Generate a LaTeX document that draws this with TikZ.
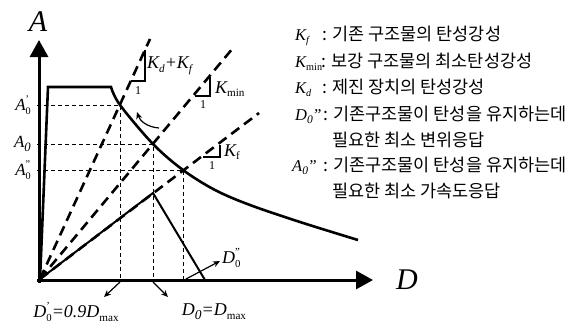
\documentclass[tikz,border=0pt]{standalone}
\usepackage{fontspec}
\usepackage{graphicx}
\setmainfont{Liberation Serif}
\newfontfamily\kr{Noto Sans CJK KR}
\usetikzlibrary{arrows.meta}
\newcommand\fs[1]{\fontsize{#1}{#1}\selectfont}
\newcommand\sbx[2][0.62]{\raisebox{-0.45ex}{\scalebox{#1}{#2}}}
\newcommand\stk[3]{#1\rlap{\raisebox{1.0ex}{\scalebox{0.6}{#2}}}\raisebox{-0.45ex}{\scalebox{0.6}{#3}}}
\begin{document}
\begin{tikzpicture}[x=1pt,y=-1pt,
  axis/.style={line width=3pt,-{Triangle[length=17pt,width=18pt]}},
  spec/.style={line width=2.6pt,line join=miter},
  slope/.style={line width=2.6pt,dash pattern=on 10pt off 6pt},
  guide/.style={line width=1pt,dash pattern=on 4pt off 3pt},
  tri/.style={line width=1.5pt},
  pth/.style={line width=2pt,line join=round},
  small/.style={line width=1.2pt,-{Stealth[length=7pt,width=6pt]}},
  lbl/.style={inner sep=0pt,font=\fs{18}\itshape},
  big/.style={inner sep=0pt,font=\fs{30}\itshape},
  one/.style={inner sep=0pt,font=\fs{12}},
  leg/.style={inner sep=0pt,anchor=base west,font=\fs{17.5}\kr},
  legk/.style={inner sep=0pt,anchor=base west,font=\fs{16.5}\itshape},
]
\useasboundingbox (0,0) rectangle (572,325);
\coordinate (O) at (40,279);
\coordinate (P1) at (120,105);
\coordinate (P2) at (153,144);
\coordinate (P3) at (183,170);
\coordinate (Pk) at (153,193);
% axes
\coordinate (Ya) at (39,283); \coordinate (Yb) at (39,40);
\coordinate (Xa) at (37,280); \coordinate (Xb) at (373,280);
\draw[axis] (Ya) -- (Yb);
\draw[axis] (Xa) -- (Xb);
\node[big] (A) at (38,22) {A};
\node[big] (D) at (407,280) {D};
% guides
\draw[guide] (37,105) -- (P1) -- (120,280);
\draw[guide] (37,144) -- (P2) -- (153,280);
\draw[guide] (37,170) -- (P3) -- (183,280);
% slope lines
\coordinate (E1) at (150,39);
\coordinate (E2) at (233,48);
\coordinate (E3) at (259,113);
\draw[slope] (O) -- (E1);
\draw[slope] (O) -- (E2);
\draw[slope] (O) -- (E3);
% spectrum
\draw[spec] (40,280) -- (48,87) -- (111,87) -- plot[smooth,tension=0.55] coordinates {(111,87) (P1) (P2) (P3) (215,190) (250,205) (300,222) (358,240)};
% load path
\draw[pth] (O) -- (Pk) -- (205,280);
% slope triangles
\draw[tri] (131,81) -- (145,81) -- (145,50);
\draw[tri] (195,96) -- (210,96) -- (210,77);
\draw[tri] (203,157) -- (220,157) -- (220,145);
\node[one] (o1) at (138,91) {1};
\node[one] (o2) at (203,105) {1};
\node[one] (o3) at (212,166) {1};
\node[lbl,anchor=west] (kdkf) at (147,66) {K\sbx{d}+K\sbx{f}};
\node[lbl,anchor=west] (kmin) at (215,89) {K\sbx{\upshape min}};
\node[lbl,anchor=west] (kf) at (224,152) {K\sbx{\upshape f}};
% curved arrow
\draw[small] (159,128) .. controls (147,127) and (140,121) .. (137,112);
% left labels
\node[lbl,anchor=east,font=\fs{17}\itshape] (a1) at (31,105) {\stk{A}{\upshape '}{\upshape 0}};
\node[lbl,anchor=east,font=\fs{17}\itshape] (a2) at (31,144) {A\sbx[0.75]{0}};
\node[lbl,anchor=east,font=\fs{17}\itshape] (a3) at (31,170) {\stk{A}{\upshape ''}{\upshape 0}};
% bottom arrows and labels
\coordinate (b1) at (120,282); \coordinate (b1e) at (104,297);
\coordinate (b2) at (153,282); \coordinate (b2e) at (168,297);
\coordinate (b3) at (186,279); \coordinate (b3e) at (220,261);
\draw[small] (b1) -- (b1e);
\draw[small] (b2) -- (b2e);
\draw[small] (b3) -- (b3e);
\node[lbl] (d1) at (76,312) {\stk{D}{\upshape '}{\upshape 0}=0.9D\sbx{\upshape max}};
\node[lbl] (d2) at (214,312) {D\sbx[0.75]{0}=D\sbx{\upshape max}};
\node[lbl,anchor=west] (d3) at (222,258) {\stk{D}{\upshape ''}{\upshape 0}};
% legend
\node[legk] (l1) at (295,40) {K\sbx{f}};
\node[leg] (t1) at (322,40) {: 기존 구조물의 탄성강성};
\node[legk] (l2) at (295,67) {K\sbx{\upshape min}};
\node[leg] (t2) at (321,67) {: 보강 구조물의 최소탄성강성};
\node[legk] (l3) at (295,93) {K\sbx{d}};
\node[leg] (t3) at (322,93) {: 제진 장치의 탄성강성};
\node[legk] (l4) at (295,120) {D\sbx[0.7]{0}\kern-0.5pt''};
\node[leg] (t4) at (323,120) {: 기존구조물이 탄성을 유지하는데};
\node[leg] (t5) at (332,146) {필요한 최소 변위응답};
\node[legk] (l6) at (292,171) {A\sbx[0.7]{0}\kern-0.5pt''};
\node[leg] (t6) at (323,171) {: 기존구조물이 탄성을 유지하는데};
\node[leg] (t7) at (332,197) {필요한 최소 가속도응답};
\end{tikzpicture}
\end{document}
